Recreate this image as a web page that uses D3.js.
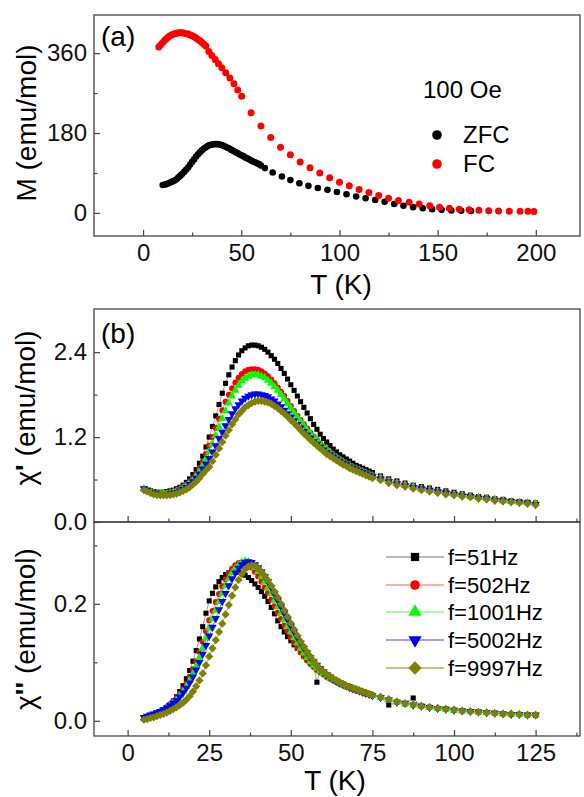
<!DOCTYPE html>
<html>
<head>
<meta charset="utf-8">
<script src="https://cdn.jsdelivr.net/npm/d3@7"></script>
<style>
  body { margin: 0; background: #fff; }
  text { font-family: 'Liberation Sans', Arial, sans-serif; }
</style>
</head>
<body>
<div id="chart"></div>
<script>
// ---- panel (a): M vs T at 100 Oe ----
const zfcT = [10,11,12,13,14,15,16,17,18,19,20,21,22,23,24,25,26,27,28,29,30,31,32,33,34,35,36,37,38,39,40,41,42,43,44,45,46,47,48,49,50,51,52,53,54,55,56,57,58,59,60,
  62,66,70.7,75,79.6,84.2,89,93.9,98.7,103.6,108.5,113.3,118.2,123,127.9,132.6,137.5,142.4,147.2,152,157,162,167];
const zfcM = [63,64,65,67,69,71,73,76,80,84,88,93,98,103,109,115,121,127,132,137,141,145,148,151,153,154,155,155,155,154,153,151,149,147,145,142,140,137,135,132,130,128,125,123,121,118,116,114,112,110,107,
  101,91,82,74,67,61,56,52,47,42,37,33,29,25,20,16,13,10.5,8.5,7,5.5,5,4.5];
const fcT = [8,9,10,11,12,13,14,15,16,17,18,19,20,21,22,23,24,25,26,27,28,29,30,31,32,
  33.5,35,36.7,38.4,40.1,42.1,44.2,46.3,48.2,50.2,
  55,60,65,70,75,80,85,90,95,100,105,110,115,120,125,130,135.5,140.6,146,151,156,161,166,171,176,181,186.5,192,196,199];
const fcM = [374,379,384,389,393,397,400,402,404,405,406,406,406,405,404,403,401,399,397,394,391,388,384,380,376,
  364,355,346,336,327,316,304,291,277,263,
  226,196,170,148,131,115,102,90,79,69,61,53,46,39,33,28,24,20,16,13,10.5,8.5,7,6,5,4.5,4,3.5,3.5,3];

// ---- panel (b): ac susceptibility ----
const chiT = [5,6,7,8,9,10,11,12,13,14,15,16,17,18,19,20,21,22,23,24,
  25,26,27,28,29,30,31,32,33,34,35,36,37,38,39,40,41,42,43,44,45,46,47,48,49,50,51,52,53,54,55,56,57,58,59,60,61,62,63,64,65,66,67,68,69,70,71,72,73,74,75,
  77.5,80,82.5,85,87.5,90,92.5,95,97.5,100,102.5,105,107.5,110,112.5,115,117.5,120,122.5,125];

const freqLabels = ["f=51Hz", "f=502Hz", "f=1001Hz", "f=5002Hz", "f=9997Hz"];

const chi1_51 = [0.47,0.45,0.44,0.43,0.42,0.42,0.42,0.43,0.44,0.45,0.47,0.49,0.52,0.56,0.61,0.67,0.74,0.83,0.93,1.06,
  1.20,1.35,1.50,1.66,1.82,1.96,2.08,2.19,2.28,2.36,2.42,2.46,2.49,2.50,2.50,2.49,2.47,2.44,2.40,2.35,2.30,2.24,2.17,2.10,2.02,1.94,1.86,1.78,1.70,1.62,1.54,1.46,1.38,1.31,1.24,1.18,1.13,1.08,1.03,0.99,0.95,0.92,0.89,0.86,0.83,0.80,0.78,0.76,0.74,0.72,0.70,
  0.65,0.61,0.58,0.55,0.52,0.50,0.48,0.46,0.44,0.42,0.40,0.38,0.36,0.35,0.33,0.32,0.30,0.29,0.28,0.27];
const chi1_502 = [0.47,0.45,0.43,0.42,0.41,0.41,0.41,0.41,0.42,0.43,0.45,0.47,0.50,0.53,0.57,0.62,0.68,0.76,0.85,0.96,
  1.08,1.20,1.33,1.46,1.58,1.70,1.80,1.89,1.97,2.04,2.09,2.13,2.15,2.16,2.16,2.15,2.13,2.10,2.06,2.01,1.96,1.90,1.84,1.78,1.71,1.64,1.57,1.50,1.44,1.38,1.32,1.26,1.21,1.16,1.11,1.07,1.03,0.99,0.95,0.92,0.89,0.86,0.83,0.80,0.78,0.76,0.74,0.72,0.70,0.68,0.66,
  0.63,0.59,0.56,0.53,0.50,0.48,0.46,0.44,0.42,0.40,0.38,0.37,0.35,0.34,0.32,0.31,0.29,0.28,0.27,0.26];
const chi1_1001 = [0.47,0.45,0.43,0.41,0.40,0.40,0.40,0.40,0.41,0.42,0.43,0.45,0.48,0.51,0.55,0.59,0.65,0.72,0.80,0.89,
  0.99,1.10,1.22,1.34,1.46,1.57,1.68,1.78,1.86,1.93,1.99,2.03,2.06,2.08,2.08,2.08,2.06,2.04,2.00,1.96,1.91,1.86,1.80,1.74,1.67,1.61,1.54,1.48,1.42,1.36,1.30,1.25,1.20,1.15,1.10,1.06,1.02,0.98,0.94,0.91,0.88,0.85,0.82,0.80,0.77,0.75,0.73,0.71,0.69,0.67,0.65,
  0.62,0.58,0.55,0.52,0.50,0.47,0.45,0.43,0.41,0.39,0.38,0.36,0.35,0.33,0.32,0.30,0.29,0.28,0.27,0.26];
const chi1_5002 = [0.47,0.45,0.42,0.41,0.40,0.39,0.39,0.39,0.40,0.41,0.42,0.44,0.46,0.49,0.53,0.57,0.62,0.68,0.75,0.82,
  0.90,0.99,1.08,1.18,1.27,1.36,1.45,1.53,1.60,1.66,1.71,1.75,1.78,1.80,1.81,1.81,1.80,1.79,1.77,1.74,1.71,1.67,1.63,1.58,1.53,1.48,1.43,1.38,1.33,1.28,1.23,1.19,1.14,1.10,1.06,1.02,0.98,0.95,0.92,0.89,0.86,0.83,0.81,0.78,0.76,0.74,0.72,0.70,0.68,0.66,0.64,
  0.61,0.57,0.54,0.51,0.49,0.47,0.45,0.43,0.41,0.39,0.37,0.36,0.34,0.33,0.31,0.30,0.29,0.28,0.27,0.25];
const chi1_9997 = [0.45,0.43,0.41,0.39,0.38,0.38,0.38,0.38,0.38,0.39,0.40,0.42,0.44,0.46,0.49,0.53,0.57,0.62,0.68,0.73,
  0.78,0.86,0.95,1.04,1.13,1.22,1.30,1.38,1.45,1.52,1.57,1.62,1.65,1.68,1.70,1.71,1.71,1.70,1.69,1.67,1.64,1.61,1.57,1.53,1.49,1.44,1.40,1.35,1.30,1.25,1.21,1.16,1.12,1.08,1.04,1.00,0.96,0.93,0.90,0.87,0.84,0.81,0.79,0.76,0.74,0.72,0.70,0.68,0.66,0.64,0.62,
  0.59,0.55,0.52,0.50,0.47,0.45,0.43,0.41,0.39,0.38,0.36,0.35,0.33,0.32,0.30,0.29,0.28,0.27,0.26,0.24];

const chi2_51 = [0.004,0.006,0.008,0.010,0.013,0.016,0.019,0.023,0.028,0.034,0.041,0.050,0.060,0.072,0.086,0.102,0.120,0.140,0.161,0.184,
  0.205,0.218,0.229,0.238,0.245,0.250,0.253,0.255,0.255,0.254,0.252,0.249,0.245,0.240,0.234,0.228,0.221,0.213,0.204,0.194,0.183,0.171,0.161,0.152,0.144,0.137,0.130,0.124,0.118,0.111,0.104,0.098,0.093,0.066,0.085,0.081,0.077,0.074,0.071,0.068,0.065,0.063,0.060,0.058,0.056,0.054,0.052,0.050,0.048,0.046,0.044,
  0.040,0.027,0.032,0.029,0.039,0.025,0.023,0.021,0.020,0.018,0.017,0.016,0.015,0.014,0.013,0.012,0.011,0.011,0.010,0.009];
const chi2_502 = [0.005,0.007,0.009,0.011,0.013,0.016,0.019,0.023,0.028,0.033,0.039,0.046,0.054,0.064,0.075,0.088,0.102,0.118,0.135,0.153,
  0.172,0.188,0.203,0.217,0.230,0.242,0.252,0.260,0.266,0.270,0.271,0.270,0.267,0.262,0.255,0.247,0.238,0.228,0.218,0.207,0.196,0.185,0.174,0.163,0.153,0.143,0.134,0.125,0.117,0.110,0.103,0.097,0.092,0.087,0.083,0.079,0.075,0.072,0.069,0.066,0.063,0.061,0.058,0.056,0.054,0.052,0.050,0.048,0.046,0.045,0.043,
  0.040,0.036,0.032,0.029,0.027,0.025,0.023,0.021,0.020,0.018,0.017,0.016,0.015,0.014,0.013,0.012,0.011,0.011,0.010,0.010];
const chi2_1001 = [0.005,0.007,0.009,0.011,0.013,0.015,0.018,0.022,0.026,0.031,0.036,0.043,0.050,0.059,0.069,0.081,0.094,0.108,0.124,0.141,
  0.158,0.174,0.189,0.204,0.218,0.231,0.243,0.253,0.261,0.267,0.271,0.273,0.272,0.268,0.262,0.255,0.247,0.238,0.228,0.217,0.206,0.195,0.184,0.173,0.162,0.152,0.142,0.133,0.124,0.116,0.108,0.101,0.095,0.090,0.085,0.081,0.077,0.073,0.070,0.067,0.064,0.061,0.059,0.057,0.055,0.053,0.051,0.049,0.047,0.045,0.043,
  0.040,0.036,0.032,0.029,0.027,0.025,0.023,0.021,0.020,0.018,0.017,0.016,0.015,0.014,0.013,0.012,0.012,0.011,0.010,0.010];
const chi2_5002 = [0.006,0.008,0.010,0.012,0.014,0.016,0.019,0.022,0.026,0.030,0.035,0.041,0.048,0.056,0.065,0.075,0.087,0.100,0.114,0.129,
  0.145,0.160,0.175,0.190,0.204,0.218,0.231,0.243,0.253,0.261,0.267,0.271,0.272,0.271,0.267,0.262,0.255,0.247,0.238,0.228,0.217,0.206,0.195,0.184,0.173,0.162,0.152,0.142,0.133,0.124,0.116,0.108,0.101,0.095,0.089,0.084,0.079,0.075,0.071,0.068,0.065,0.062,0.060,0.057,0.055,0.053,0.051,0.049,0.047,0.045,0.043,
  0.040,0.036,0.032,0.030,0.027,0.025,0.023,0.021,0.020,0.018,0.017,0.016,0.015,0.014,0.013,0.012,0.011,0.011,0.010,0.010];
const chi2_9997 = [0.002,0.003,0.005,0.006,0.008,0.010,0.012,0.014,0.017,0.020,0.023,0.027,0.031,0.036,0.042,0.050,0.059,0.069,0.081,0.095,
  0.110,0.124,0.138,0.152,0.166,0.182,0.198,0.214,0.228,0.241,0.251,0.259,0.264,0.266,0.265,0.261,0.255,0.248,0.240,0.231,0.221,0.211,0.200,0.189,0.178,0.167,0.156,0.146,0.136,0.127,0.118,0.110,0.102,0.095,0.089,0.084,0.080,0.076,0.072,0.069,0.066,0.063,0.060,0.058,0.056,0.054,0.052,0.050,0.048,0.046,0.044,
  0.041,0.037,0.033,0.030,0.028,0.025,0.023,0.022,0.020,0.019,0.017,0.016,0.015,0.014,0.013,0.012,0.012,0.011,0.010,0.010];

const chi1Series = [chi1_51, chi1_502, chi1_1001, chi1_5002, chi1_9997];
const chi2Series = [chi2_51, chi2_502, chi2_1001, chi2_5002, chi2_9997];
const markColors = ["#000000", "#ff0000", "#00ff00", "#0000ff", "#808000"];
const lineColors = ["#a0a0a0", "#ff9090", "#80ff80", "#8080ff", "#b0b050"];

const W = 584, H = 797;
const left = 94, right = 580;
const axisColor = "#444";

const svg = d3.select("#chart").append("svg")
    .attr("width", W)
    .attr("height", H);
svg.append("rect").attr("width", W).attr("height", H).attr("fill", "#fff");

// scales
const xa = d3.scaleLinear().domain([-25, 222.5]).range([left, right]);
const ya = d3.scaleLinear().domain([-52, 446]).range([236, 15]);
const xb = d3.scaleLinear().domain([-10.3, 138.6]).range([left, right]);
const yb1 = d3.scaleLinear().domain([0, 3.01]).range([522, 309]);
const yb2 = d3.scaleLinear().domain([-0.026, 0.34]).range([736, 522]);

function styleAxis(g, size) {
    g.select(".domain").remove();
    g.attr("color", axisColor);
    g.selectAll("line").attr("stroke-width", 1.2);
    g.selectAll("text")
        .attr("fill", "#111")
        .attr("font-size", size)
        .attr("font-family", "'Liberation Sans', Arial, sans-serif");
}

function bottomAxis(x, y0, major, minor, labels) {
    const g = svg.append("g").attr("transform", `translate(0,${y0})`);
    g.call(d3.axisBottom(x).tickValues(major).tickSize(-6).tickPadding(8)
        .tickFormat(labels ? d3.format("d") : ""));
    styleAxis(g, 24);
    const gm = svg.append("g").attr("transform", `translate(0,${y0})`);
    gm.call(d3.axisBottom(x).tickValues(minor).tickSize(-3.5).tickFormat(""));
    styleAxis(gm, 24);
}

function leftAxis(y, major, minor, fmt) {
    const g = svg.append("g").attr("transform", `translate(${left},0)`);
    g.call(d3.axisLeft(y).tickValues(major).tickSize(-6).tickPadding(7).tickFormat(fmt));
    styleAxis(g, 24);
    const gm = svg.append("g").attr("transform", `translate(${left},0)`);
    gm.call(d3.axisLeft(y).tickValues(minor).tickSize(-3.5).tickFormat(""));
    styleAxis(gm, 24);
}

function frame(y0, y1) {
    svg.append("rect")
        .attr("x", left).attr("y", y0)
        .attr("width", right - left).attr("height", y1 - y0)
        .attr("fill", "none")
        .attr("stroke", axisColor)
        .attr("stroke-width", 1.3);
}

// ---------- panel (a) ----------
const ga = svg.append("g");
ga.selectAll(".zfc").data(zfcT.map((t, i) => ({ t, m: zfcM[i] })))
    .enter().append("circle")
    .attr("cx", d => xa(d.t)).attr("cy", d => ya(d.m))
    .attr("r", 3.3).attr("fill", "#000");
ga.selectAll(".fc").data(fcT.map((t, i) => ({ t, m: fcM[i] })))
    .enter().append("circle")
    .attr("cx", d => xa(d.t)).attr("cy", d => ya(d.m))
    .attr("r", 3.5).attr("fill", "#ff0000");

frame(15, 236);
bottomAxis(xa, 236, [0, 50, 100, 150, 200], [25, 75, 125, 175], true);
leftAxis(ya, [0, 180, 360], [90, 270], d3.format("d"));

svg.append("text").attr("x", 101).attr("y", 46).attr("font-size", 28).text("(a)");
svg.append("text").attr("x", 423).attr("y", 98).attr("font-size", 24).text("100 Oe");

const legA = [["ZFC", "#000", 135], ["FC", "#ff0000", 164]];
legA.forEach(([lab, col, yy]) => {
    svg.append("circle").attr("cx", 437).attr("cy", yy).attr("r", 4.8).attr("fill", col);
    svg.append("text").attr("x", 463).attr("y", yy + 8).attr("font-size", 24).text(lab);
});

svg.append("text")
    .attr("transform", "translate(36,123) rotate(-90)")
    .attr("text-anchor", "middle").attr("font-size", 28)
    .text("M (emu/mol)");
svg.append("text")
    .attr("x", 341).attr("y", 294)
    .attr("text-anchor", "middle").attr("font-size", 28)
    .text("T (K)");

// ---------- panel (b) ----------
const symbols = [
    { type: d3.symbolSquare, rot: 0, size: 26 },
    { type: d3.symbolCircle, rot: 0, size: 28 },
    { type: d3.symbolTriangle, rot: 0, size: 30 },
    { type: d3.symbolTriangle, rot: 180, size: 30 },
    { type: d3.symbolSquare, rot: 45, size: 34 }
];

function drawSeries(g, y, vals, k) {
    const pts = chiT.map((t, i) => ({ t, v: vals[i] }));
    g.append("path").datum(pts)
        .attr("fill", "none")
        .attr("stroke", lineColors[k])
        .attr("stroke-width", 1)
        .attr("d", d3.line().x(d => xb(d.t)).y(d => y(d.v)));
    const sym = d3.symbol().type(symbols[k].type).size(symbols[k].size);
    g.selectAll(null).data(pts).enter().append("path")
        .attr("transform", d => `translate(${xb(d.t)},${y(d.v)}) rotate(${symbols[k].rot})`)
        .attr("d", sym)
        .attr("fill", markColors[k]);
}

const gb1 = svg.append("g");
chi1Series.forEach((s, k) => drawSeries(gb1, yb1, s, k));
const gb2 = svg.append("g");
chi2Series.forEach((s, k) => drawSeries(gb2, yb2, s, k));

frame(309, 522);
frame(522, 736);
const bMajor = [0, 25, 50, 75, 100, 125];
const bMinor = [12.5, 37.5, 62.5, 87.5, 112.5, 137.5];
bottomAxis(xb, 522, bMajor, bMinor, false);
bottomAxis(xb, 736, bMajor, bMinor, true);
leftAxis(yb1, [0, 1.2, 2.4], [0.6, 1.8], d3.format(".1f"));
leftAxis(yb2, [0, 0.2], [0.1, 0.3], d3.format(".1f"));

svg.append("text").attr("x", 101).attr("y", 343).attr("font-size", 28).text("(b)");

// legend for frequencies
const legY = [557, 585, 612, 640, 668];
freqLabels.forEach((lab, k) => {
    const yy = legY[k];
    svg.append("line")
        .attr("x1", 386).attr("x2", 444).attr("y1", yy).attr("y2", yy)
        .attr("stroke", lineColors[k]).attr("stroke-width", 1.3);
    svg.append("path")
        .attr("transform", `translate(415,${yy}) rotate(${symbols[k].rot})`)
        .attr("d", d3.symbol().type(symbols[k].type).size(symbols[k].size * 2.6))
        .attr("fill", markColors[k]);
    svg.append("text").attr("x", 448).attr("y", yy + 8).attr("font-size", 22).text(lab);
});

const chiLab1 = svg.append("text")
    .attr("transform", "translate(35,408) rotate(-90)")
    .attr("text-anchor", "middle").attr("font-size", 28);
chiLab1.append("tspan").text("χ");
chiLab1.append("tspan").attr("font-weight", "bold").text("'");
chiLab1.append("tspan").text(" (emu/mol)");

const chiLab2 = svg.append("text")
    .attr("transform", "translate(35,629) rotate(-90)")
    .attr("text-anchor", "middle").attr("font-size", 28);
chiLab2.append("tspan").text("χ");
chiLab2.append("tspan").attr("font-weight", "bold").text("''");
chiLab2.append("tspan").text(" (emu/mol)");

svg.append("text")
    .attr("x", 335).attr("y", 790)
    .attr("text-anchor", "middle").attr("font-size", 28)
    .text("T (K)");
</script>
</body>
</html>
